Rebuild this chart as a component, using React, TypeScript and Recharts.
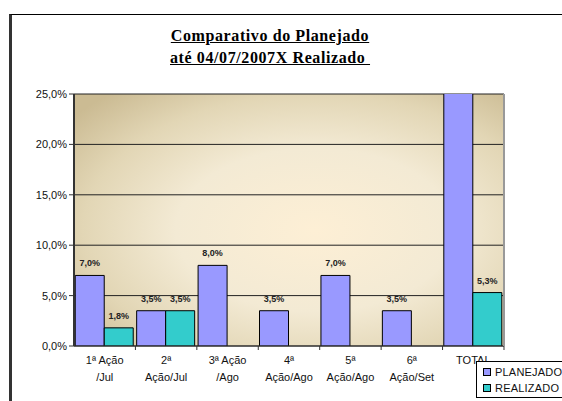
import { Bar, BarChart, CartesianGrid, LabelList, XAxis, YAxis } from 'recharts'

const categories = ['1ª Ação|/Jul', '2ª|Ação/Jul', '3ª Ação|/Ago', '4ª|Ação/Ago', '5ª|Ação/Ago', '6ª|Ação/Set', 'TOTAL']
const planejado = [7.0, 3.5, 8.0, 3.5, 7.0, 3.5, 32.5]
const realizado: (number | null)[] = [1.8, 3.5, null, null, null, null, 5.3]
const yTicks = [0, 5, 10, 15, 20, 25]
const seriesNames = ['PLANEJADO', 'REALIZADO']
const seriesColors = ['#9999ff', '#33cccc']

const data = categories.map((name, i) => ({
  name,
  PLANEJADO: planejado[i],
  REALIZADO: realizado[i],
}))

const FONT = '"Liberation Sans", Arial, sans-serif'
const fmt = (v: number) => `${v.toFixed(1).replace('.', ',')}%`

const CatTick = ({ x, y, payload }: any) => {
  const lines = String(payload.value).split('|')
  return (
    <g>
      <line x1={x + 30.7} y1={y - 8} x2={x + 30.7} y2={y - 4} stroke="#333" />
      <text x={x} y={y + 10} textAnchor="middle" fontSize={11} fill="#111" fontFamily={FONT}>
        {lines.map((l, i) => (
          <tspan key={i} x={x} dy={i === 0 ? 0 : 17}>
            {l}
          </tspan>
        ))}
      </text>
    </g>
  )
}

const BarLabel = ({ x, y, width, value }: any) => {
  if (value == null || value > 25) return null
  return (
    <text x={x + width / 2} y={y - 9} textAnchor="middle" fontSize={9} fontWeight="bold" fill="#222" fontFamily={FONT}>
      {fmt(value)}
    </text>
  )
}

const LegendBox = () => (
  <div
    style={{
      position: 'absolute',
      left: 476,
      top: 361,
      border: '1px solid #000',
      background: '#fff',
      width: 92,
      height: 37,
      fontFamily: FONT,
      fontSize: 11,
      color: '#111',
      boxSizing: 'border-box',
      padding: '2px 0 0 6px',
    }}
  >
    {seriesNames.map((n, i) => (
      <div key={n} style={{ display: 'flex', alignItems: 'center', height: 16, letterSpacing: 0.2 }}>
        <span style={{ width: 6, height: 6, background: seriesColors[i], border: '1px solid #000', marginRight: 4 }} />
        {n}
      </div>
    ))}
  </div>
)

export default function App() {
  return (
    <div style={{ position: 'absolute', left: 0, top: 0, width: 562, height: 401, overflow: 'hidden', background: '#fff' }}>
      <div
        style={{
          position: 'absolute',
          left: 9,
          top: 14,
          width: 620,
          height: 420,
          borderLeft: '3px solid #333',
          borderTop: '1px solid #000',
        }}
      />
      <div
        style={{
          position: 'absolute',
          left: 170,
          top: 25,
          width: 200,
          textAlign: 'center',
          fontFamily: '"Liberation Serif", "Times New Roman", serif',
          fontWeight: 'bold',
          fontSize: 16,
          letterSpacing: 0.6,
          lineHeight: '22px',
          textDecoration: 'underline',
          color: '#000',
          whiteSpace: 'nowrap',
        }}
      >
        <div>Comparativo do Planejado</div>
        <div>até 04/07/2007X Realizado&nbsp;</div>
      </div>
      <div style={{ position: 'absolute', left: 0, top: 0 }}>
        <BarChart
          width={562}
          height={401}
          data={data}
          margin={{ top: 94, right: 57, bottom: 10, left: 8 }}
          barCategoryGap="2%"
          barGap={0}
        >
          <defs>
            <radialGradient id="bgGrad" cx="0.56" cy="0.54" r="0.72">
              <stop offset="0%" stopColor="#fdefd5" />
              <stop offset="45%" stopColor="#f3ead4" />
              <stop offset="75%" stopColor="#e2d6b5" />
              <stop offset="100%" stopColor="#cbbb93" />
            </radialGradient>
          </defs>
          <CartesianGrid vertical={false} stroke="#222" fill="url(#bgGrad)" fillOpacity={1} />
          <XAxis
            dataKey="name"
            height={45}
            interval={0}
            tickLine={false}
            axisLine={{ stroke: '#333' }}
            tick={<CatTick />}
          />
          <YAxis
            domain={[0, 25]}
            ticks={yTicks}
            allowDataOverflow
            width={66}
            tickSize={5}
            tickLine={{ stroke: '#333' }}
            axisLine={{ stroke: '#333', strokeWidth: 2 }}
            tickFormatter={fmt}
            tick={{ fontSize: 11, fill: '#111', fontFamily: FONT }}
          />
          <YAxis
            yAxisId="r"
            orientation="right"
            domain={[0, 25]}
            width={1}
            tick={false}
            tickLine={false}
            axisLine={{ stroke: '#999', strokeWidth: 2 }}
          />
          <Bar dataKey="PLANEJADO" fill={seriesColors[0]} stroke="#000" strokeWidth={1} isAnimationActive={false}>
            <LabelList dataKey="PLANEJADO" content={<BarLabel />} />
          </Bar>
          <Bar dataKey="REALIZADO" fill={seriesColors[1]} stroke="#000" strokeWidth={1} isAnimationActive={false}>
            <LabelList dataKey="REALIZADO" content={<BarLabel />} />
          </Bar>
        </BarChart>
      </div>
      <LegendBox />
    </div>
  )
}
